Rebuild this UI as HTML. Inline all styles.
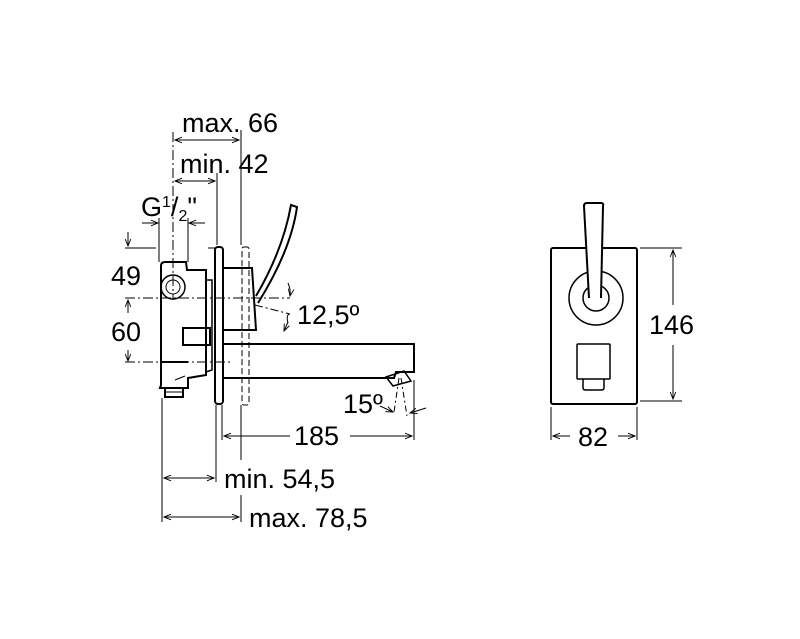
<!DOCTYPE html>
<html><head><meta charset="utf-8"><style>
html,body{margin:0;padding:0;background:#fff;}
svg{display:block}
text{font-family:"Liberation Sans",Arial,sans-serif;font-size:27px;fill:#000}
</style></head><body>
<svg width="800" height="639" viewBox="0 0 800 639" xmlns="http://www.w3.org/2000/svg">
<defs>
<marker id="a" viewBox="0 0 10 10" refX="10" refY="5" markerWidth="9" markerHeight="7" orient="auto-start-reverse" markerUnits="userSpaceOnUse"><path d="M0,1 L10,5 L0,9" fill="none" stroke="#000" stroke-width="1.3"/></marker>
</defs>
<g stroke="#000" fill="none" stroke-width="1">
<line x1="173" y1="132" x2="173" y2="300" stroke-dasharray="10,3,2,3"/>
<line x1="241" y1="130" x2="241" y2="245"/>
<line x1="217" y1="173" x2="217" y2="245"/>
<line x1="159" y1="218" x2="159" y2="262"/>
<line x1="188" y1="218" x2="188" y2="262"/>
<line x1="175" y1="140" x2="239" y2="140" marker-start="url(#a)" marker-end="url(#a)"/>
<line x1="175" y1="181" x2="215" y2="181" marker-start="url(#a)" marker-end="url(#a)"/>
<line x1="142" y1="223" x2="158" y2="223" marker-end="url(#a)"/>
<line x1="205" y1="223" x2="189" y2="223" marker-end="url(#a)"/>
<line x1="128" y1="232" x2="128" y2="246" marker-end="url(#a)"/>
<line x1="125" y1="248" x2="156" y2="248"/>
<line x1="208" y1="248" x2="216" y2="248"/>
<line x1="125" y1="298" x2="290" y2="298" stroke-dasharray="10,3,2,3"/>
<line x1="128" y1="313" x2="128" y2="300" marker-end="url(#a)"/>
<line x1="128" y1="350" x2="128" y2="361" marker-end="url(#a)"/>
<line x1="125" y1="362" x2="230" y2="362" stroke-dasharray="10,3,2,3"/>
<line x1="255" y1="305" x2="290" y2="314" stroke-dasharray="8,3,2,3"/>
<path d="M288,283 Q291,290 290,296" marker-end="url(#a)"/>
<path d="M288,323 Q286,316 289,314" />
<line x1="284" y1="331" x2="288" y2="322" marker-start="url(#a)"/>
<g stroke-width="2">
<path d="M161,385 L161,266 Q161,262 165,262 L186,262 L187,270 L206,270 L206,375 L188,378 L188,388 L160,388 Z"/>
<line x1="160" y1="362" x2="188" y2="362"/>
<rect x="165" y="388" width="18" height="9"/>
<path d="M183,328 L210,328 L210,345 L183,345 Z"/>
<path d="M206,280 L212,280 L212,370 L206,372" stroke-width="1.5"/>
<rect x="215" y="247" width="8" height="157" rx="3"/>
<path d="M223,268 L252,268 L256,330 L223,330"/>
<path d="M223,344 L414,344 L414,372 L396,372 L394,378 L223,378"/>
<path d="M386,377 L404,371 L411,381 L393,386 Z" stroke-width="1.5"/>
<path d="M256,296 Q283,250 291,205 L297,207 Q291,250 258,303" stroke-width="2"/>
<circle cx="173" cy="287" r="12" stroke-width="1.5"/>
<circle cx="173" cy="287" r="7" stroke-width="1"/>
</g>
<rect x="242" y="247" width="7" height="158" rx="2" stroke-dasharray="6,3"/>
<path d="M175,380 L185,376 M166,392 L182,392" stroke-width="1"/>
<line x1="399" y1="378" x2="394" y2="412" stroke-dasharray="6,3,2,3"/>
<line x1="401" y1="378" x2="407" y2="416" stroke-dasharray="6,3,2,3"/>
<line x1="380" y1="406" x2="393" y2="412" marker-end="url(#a)"/>
<line x1="426" y1="408" x2="410" y2="413" marker-end="url(#a)"/>
<line x1="162" y1="398" x2="162" y2="522"/>
<line x1="216" y1="405" x2="216" y2="482"/>
<line x1="222" y1="405" x2="222" y2="440"/>
<line x1="241" y1="405" x2="241" y2="460"/>
<line x1="241" y1="495" x2="241" y2="522"/>
<line x1="414" y1="380" x2="414" y2="440"/>
<line x1="224" y1="436" x2="290" y2="436" marker-start="url(#a)"/>
<line x1="350" y1="436" x2="412" y2="436" marker-end="url(#a)"/>
<line x1="164" y1="478" x2="214" y2="478" marker-start="url(#a)" marker-end="url(#a)"/>
<line x1="164" y1="517" x2="239" y2="517" marker-start="url(#a)" marker-end="url(#a)"/>
<g stroke-width="2">
<rect x="551" y="248" width="86" height="156" rx="2"/>
<circle cx="596" cy="298" r="27" stroke-width="1.5"/>
<circle cx="596" cy="298" r="13" stroke-width="1.5"/>
<path d="M589,298 L584,206 Q584,203 587,203 L601,203 Q604,203 603,206 L601,298" fill="#fff"/>
<rect x="577" y="344" width="33" height="35" rx="1" stroke-width="1.5"/>
<path d="M583,379 L583,388 Q583,390 586,390 L601,390 Q604,390 604,388 L604,379" stroke-width="1.5"/>
</g>
<line x1="640" y1="248" x2="682" y2="248"/>
<line x1="640" y1="401" x2="682" y2="401"/>
<line x1="673" y1="305" x2="673" y2="250" marker-end="url(#a)"/>
<line x1="673" y1="345" x2="673" y2="399" marker-end="url(#a)"/>
<line x1="551" y1="407" x2="551" y2="440"/>
<line x1="637" y1="407" x2="637" y2="440"/>
<line x1="570" y1="436" x2="553" y2="436" marker-end="url(#a)"/>
<line x1="618" y1="436" x2="635" y2="436" marker-end="url(#a)"/>
</g>
<text x="182" y="132">max. 66</text>
<text x="180" y="173">min. 42</text>
<text x="141" y="216">G<tspan font-size="16" dy="-9">1</tspan><tspan dy="9">/</tspan><tspan font-size="16" dy="5">2</tspan><tspan dy="-5">"</tspan></text>
<text x="111" y="285">49</text>
<text x="111" y="341">60</text>
<text x="297" y="324">12,5º</text>
<text x="343" y="413">15º</text>
<text x="294" y="445">185</text>
<text x="224" y="488">min. 54,5</text>
<text x="249" y="527">max. 78,5</text>
<text x="649" y="334">146</text>
<text x="578" y="446">82</text>
</svg>
</body></html>
